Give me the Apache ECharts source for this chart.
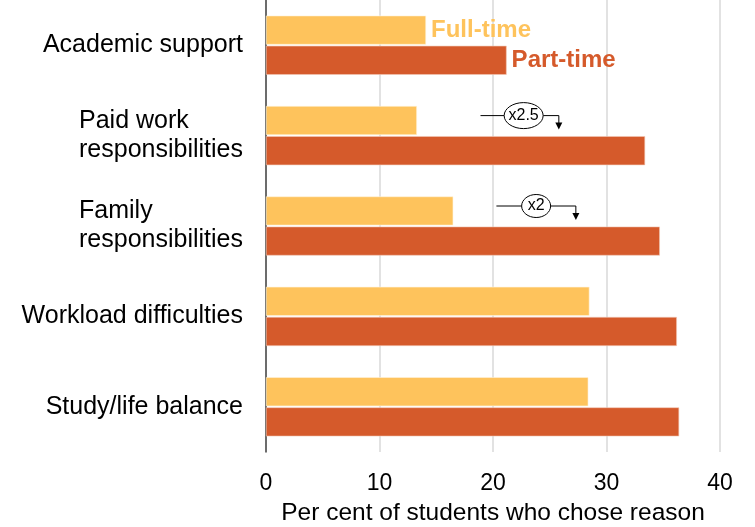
<!DOCTYPE html>
<html>
<head>
<meta charset="utf-8">
<script src="https://cdn.jsdelivr.net/npm/echarts@6/dist/echarts.min.js"></script>
<style>
  html, body { margin: 0; padding: 0; background: #fff; }
  #chart { width: 755px; height: 527px; }
</style>
</head>
<body>
<div id="chart"></div>
<script>
// reasons (top to bottom)
var categories = ['Academic support', 'Paid work\nresponsibilities', 'Family\nresponsibilities', 'Workload difficulties', 'Study/life balance'];
var fullTime = [14.1, 13.3, 16.5, 28.5, 28.4];
var partTime = [21.2, 33.4, 34.7, 36.2, 36.4];
var xTicks = [0, 10, 20, 30, 40];
// ratio callouts: category index, line start, ellipse centre, arrow x (data units)
var callouts = [
  { cat: 1, text: 'x2.5', from: 18.9, mid: 22.7, to: 25.8, rx: 19.5, ry: 13 },
  { cat: 2, text: 'x2', from: 20.3, mid: 23.8, to: 27.3, rx: 14.5, ry: 11.5 }
];

var FT_COLOR = '#FEC35C';
var PT_COLOR = '#D55A2B';
var FONT = '"Liberation Sans", Arial, sans-serif';

var myChart = echarts.init(document.getElementById('chart'));

function withLabel(values, name, color) {
  return values.map(function (v, i) {
    if (i > 0) return v;
    return {
      value: v,
      label: {
        show: true, position: 'right', distance: 5,
        formatter: name, color: color,
        fontFamily: FONT, fontSize: 24, fontWeight: 'bold'
      }
    };
  });
}

var option = {
  animation: false,
  grid: { left: 266, right: 35, top: 0, bottom: 75, containLabel: false, outerBoundsMode: 'none' },
  xAxis: {
    type: 'value', min: 0, max: 40, interval: 10,
    name: 'Per cent of students who chose reason',
    nameLocation: 'middle', nameGap: 49,
    nameTextStyle: { fontFamily: FONT, fontSize: 24.5, color: '#000' },
    axisLine: { show: false },
    axisTick: { show: false },
    axisLabel: {
      fontFamily: FONT, fontSize: 23, color: '#000', margin: 20,
      formatter: function (v) { return xTicks.indexOf(v) >= 0 ? String(v) : ''; }
    },
    splitLine: { show: true, lineStyle: { color: '#d9d9d9', width: 1.5 } }
  },
  yAxis: {
    type: 'category', inverse: true, data: categories,
    axisLine: { show: true, lineStyle: { color: '#444', width: 1.5 } },
    axisTick: { show: false },
    axisLabel: {
      margin: 23, color: '#000',
      formatter: function (v) {
        return v.split('\n').map(function (s) { return '{l|' + s + '}'; }).join('\n');
      },
      rich: { l: { fontFamily: FONT, fontSize: 25, color: '#000', align: 'left', lineHeight: 29 } }
    }
  },
  series: [
    {
      name: 'Full-time', type: 'bar', barWidth: 29, barGap: '4%',
      itemStyle: { color: FT_COLOR, borderColor: '#fff3dc', borderWidth: 0.6 },
      data: withLabel(fullTime, 'Full-time', FT_COLOR)
    },
    {
      name: 'Part-time', type: 'bar', barWidth: 29, barGap: '4%',
      itemStyle: { color: PT_COLOR, borderColor: '#f2c7b5', borderWidth: 0.6 },
      data: withLabel(partTime, 'Part-time', PT_COLOR)
    }
  ]
};
myChart.setOption(option);

// callouts positioned from axis scales
var graphics = [];
callouts.forEach(function (c) {
  var yc = myChart.convertToPixel({ yAxisIndex: 0 }, categories[c.cat]);
  var y = yc - 20;
  var x0 = myChart.convertToPixel({ xAxisIndex: 0 }, c.from);
  var xm = myChart.convertToPixel({ xAxisIndex: 0 }, c.mid);
  var x1 = myChart.convertToPixel({ xAxisIndex: 0 }, c.to);
  var yTip = yc - 6;
  var ls = { stroke: '#000', lineWidth: 1 };
  graphics.push({ type: 'line', shape: { x1: x0, y1: y, x2: xm - c.rx, y2: y }, style: ls, silent: true });
  graphics.push({ type: 'polyline', shape: { points: [[xm + c.rx, y], [x1, y], [x1, yTip - 6]] }, style: { stroke: '#000', lineWidth: 1, fill: null }, silent: true });
  graphics.push({ type: 'polygon', shape: { points: [[x1 - 3.5, yTip - 7], [x1 + 3.5, yTip - 7], [x1, yTip]] }, style: { fill: '#000' }, silent: true });
  graphics.push({ type: 'ellipse', shape: { cx: xm, cy: y, rx: c.rx, ry: c.ry }, style: { fill: '#fff', stroke: '#000', lineWidth: 1 }, silent: true });
  graphics.push({
    type: 'text', x: xm, y: y, silent: true,
    style: { text: c.text, fontFamily: FONT, fontSize: 16, fill: '#000', align: 'center', verticalAlign: 'middle' }
  });
});
myChart.setOption({ graphic: graphics });
</script>
</body>
</html>
